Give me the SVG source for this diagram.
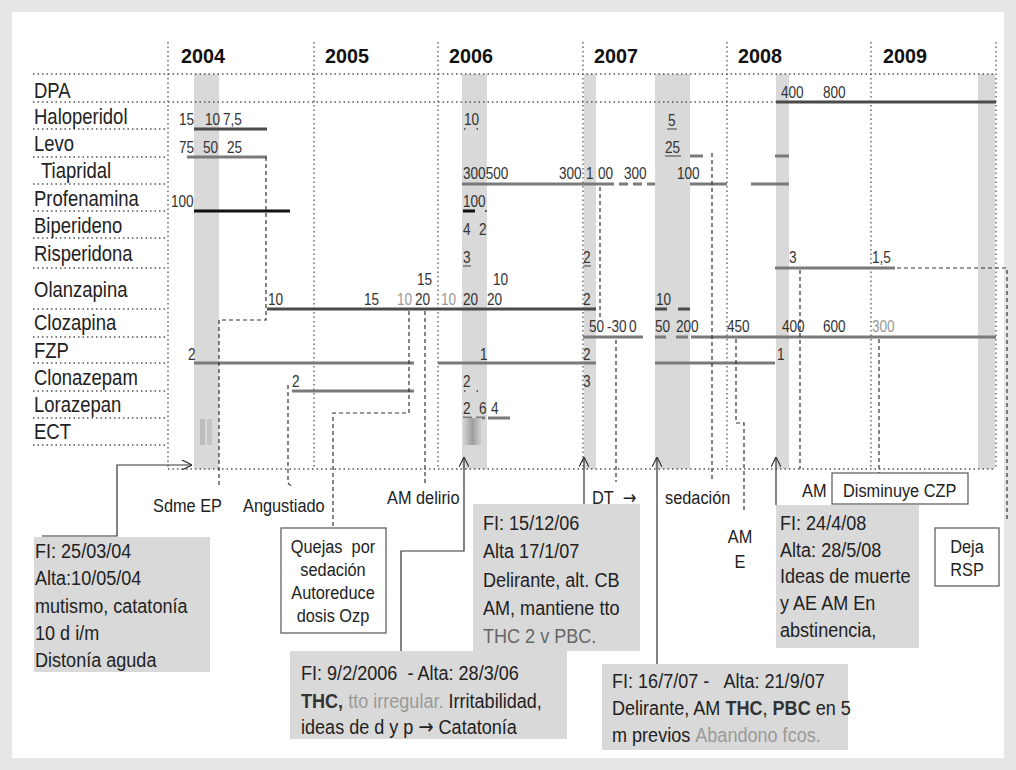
<svg xmlns="http://www.w3.org/2000/svg" width="1016" height="770" viewBox="0 0 1016 770">
<style>
text{font-family:"Liberation Sans",Arial,sans-serif;fill:#222}
.yr{font-size:21px;font-weight:bold;fill:#111}
.lbl{font-size:21.5px}
.n{font-size:16px;fill:#333}
.lt{fill:#999}
.bx{font-size:21px}
.sm{font-size:19px}
.arr{font-family:"DejaVu Sans",sans-serif}
.grid{stroke:#555;stroke-width:1.3;stroke-dasharray:1.5 3;fill:none}
.col{fill:#d9d9d9}
.bar{stroke:#7a7a7a;stroke-width:3;fill:none}
.dk{stroke:#4a4a4a}
.blk{stroke:#111}
.dash{stroke:#333;stroke-width:1.2;stroke-dasharray:4 3;fill:none}
.sol{stroke:#333;stroke-width:1.2;fill:none}
.gbox{fill:#d9d9d9}
.wbox{fill:#fff;stroke:#555;stroke-width:1.2}
</style>
<defs>
<marker id="ah" viewBox="0 0 10 10" refX="10" refY="5" markerWidth="10" markerHeight="10" markerUnits="userSpaceOnUse" orient="auto">
<path d="M0,0 L10,5 L0,10" fill="none" stroke="#333" stroke-width="1.2"/>
</marker>
<linearGradient id="ect" x1="0" x2="1" y1="0" y2="0">
<stop offset="0" stop-color="#d4d4d4"/><stop offset="0.5" stop-color="#9e9e9e"/><stop offset="1" stop-color="#d4d4d4"/>
</linearGradient>
</defs>
<rect width="1016" height="770" fill="#e6e6e6"/>
<rect x="12" y="12" width="992" height="746" fill="#fff"/>

<g id="stays">
<rect class="col" x="194" y="74" width="25" height="395"/>
<rect class="col" x="462" y="74" width="25" height="395"/>
<rect class="col" x="584" y="74" width="12" height="395"/>
<rect class="col" x="655" y="74" width="35" height="395"/>
<rect class="col" x="776" y="74" width="13" height="395"/>
<rect class="col" x="978" y="74" width="17" height="395"/>
</g>

<g id="grid">
<path class="grid" d="M168,42V469M314,42V469M438,42V469M583,42V469M727,42V469M871,42V469M996,42V469"/>
<path class="grid" d="M33,74H996M33,102H776M33,129H168M33,157H168M33,184H168M33,211H168M33,238H168M33,268H168M33,309H168M33,337H168M33,363H168M33,391H168M33,418H168M33,445H168M168,469H996"/>
</g>

<g id="years">
<text class="yr" transform="translate(181 63) scale(.94 1)">2004</text>
<text class="yr" transform="translate(325 63) scale(.94 1)">2005</text>
<text class="yr" transform="translate(449 63) scale(.94 1)">2006</text>
<text class="yr" transform="translate(594 63) scale(.94 1)">2007</text>
<text class="yr" transform="translate(738 63) scale(.94 1)">2008</text>
<text class="yr" transform="translate(883 63) scale(.94 1)">2009</text>
</g>

<g id="drugs">
<text class="lbl" transform="translate(34 98) scale(.86 1)">DPA</text>
<text class="lbl" transform="translate(34 124) scale(.86 1)">Haloperidol</text>
<text class="lbl" transform="translate(34 151) scale(.86 1)">Levo</text>
<text class="lbl" transform="translate(41 178) scale(.86 1)">Tiapridal</text>
<text class="lbl" transform="translate(34 206) scale(.86 1)">Profenamina</text>
<text class="lbl" transform="translate(34 233) scale(.86 1)">Biperideno</text>
<text class="lbl" transform="translate(34 261) scale(.86 1)">Risperidona</text>
<text class="lbl" transform="translate(34 297) scale(.86 1)">Olanzapina</text>
<text class="lbl" transform="translate(34 330) scale(.86 1)">Clozapina</text>
<text class="lbl" transform="translate(34 358) scale(.86 1)">FZP</text>
<text class="lbl" transform="translate(34 385) scale(.86 1)">Clonazepam</text>
<text class="lbl" transform="translate(34 412) scale(.86 1)">Lorazepan</text>
<text class="lbl" transform="translate(34 439) scale(.86 1)">ECT</text>
</g>

<g id="bars">
<path class="bar dk" d="M776,102H996"/>
<path class="bar dk" d="M194,129H267"/>
<path class="bar" d="M187,157H267M690,156H703M775,156H789"/>
<path class="bar" d="M462,184H605M690,184H727M751,184H789"/>
<path class="bar" d="M605,184H655" stroke-dasharray="9 5"/>
<path class="bar blk" d="M194,211H290M463,211H475"/>
<path class="bar" d="M775,268H895"/>
<path class="bar dk" d="M267,309H596M655,309H667M678,309H690"/>
<path class="bar" d="M583,337H643M655,337H666M676,337H688M691,337H996"/>
<path class="bar" d="M194,363H414M438,363H596M655,363H775"/>
<path class="bar" d="M292,391H414"/>
<path class="bar" d="M463,418H472M476,418H485M488,418H510"/>
<path stroke="#444" stroke-width="1.2" fill="none" d="M463,266H471M583,266H591M667,129H677M665,156H681"/>
<path stroke="#444" stroke-width="1.5" stroke-dasharray="1.5 11" fill="none" d="M464,129H480M464,391H480"/>
<rect x="200" y="419" width="5" height="26" fill="#bcbcbc"/>
<rect x="207" y="419" width="5" height="26" fill="#c4c4c4"/>
<rect x="463" y="418" width="19" height="27" fill="url(#ect)"/>
</g>

<g id="doses">
<text class="n" transform="translate(781 98) scale(.85 1)">400</text>
<text class="n" transform="translate(823 98) scale(.85 1)">800</text>
<text class="n" transform="translate(179 125) scale(.85 1)">15</text>
<text class="n" transform="translate(205 125) scale(.85 1)">10</text>
<text class="n" transform="translate(223 125) scale(.85 1)">7,5</text>
<text class="n" transform="translate(464 125) scale(.85 1)">10</text>
<text class="n" transform="translate(668 126) scale(.85 1)">5</text>
<text class="n" transform="translate(179 153) scale(.85 1)">75</text>
<text class="n" transform="translate(203 153) scale(.85 1)">50</text>
<text class="n" transform="translate(227 153) scale(.85 1)">25</text>
<text class="n" transform="translate(665 153) scale(.85 1)">25</text>
<text class="n" transform="translate(463 179) scale(.85 1)">300500</text>
<text class="n" transform="translate(559 179) scale(.85 1)">300</text>
<text class="n" transform="translate(586 179) scale(.85 1)">1</text>
<text class="n" transform="translate(598 179) scale(.85 1)">00</text>
<text class="n" transform="translate(624 179) scale(.85 1)">300</text>
<text class="n" transform="translate(677 179) scale(.85 1)">100</text>
<text class="n" transform="translate(171 207) scale(.85 1)">100</text>
<text class="n" transform="translate(463 207) scale(.85 1)">100</text>
<circle cx="486" cy="211" r="1" fill="#333"/>
<text class="n" transform="translate(463 235) scale(.85 1)">4</text>
<text class="n" transform="translate(479 235) scale(.85 1)">2</text>
<text class="n" transform="translate(463 263) scale(.85 1)">3</text>
<text class="n" transform="translate(583 263) scale(.85 1)">2</text>
<text class="n" transform="translate(789 263) scale(.85 1)">3</text>
<text class="n" transform="translate(872 263) scale(.85 1)">1,5</text>
<text class="n" transform="translate(268 305) scale(.85 1)">10</text>
<text class="n" transform="translate(364 305) scale(.85 1)">15</text>
<text class="n lt" transform="translate(397 305) scale(.85 1)">10</text>
<text class="n" transform="translate(415 305) scale(.85 1)">20</text>
<text class="n" transform="translate(417 285) scale(.85 1)">15</text>
<text class="n lt" transform="translate(441 305) scale(.85 1)">10</text>
<text class="n" transform="translate(463 305) scale(.85 1)">20</text>
<text class="n" transform="translate(487 305) scale(.85 1)">20</text>
<text class="n" transform="translate(493 285) scale(.85 1)">10</text>
<text class="n" transform="translate(583 305) scale(.85 1)">2</text>
<text class="n" transform="translate(656 305) scale(.85 1)">10</text>
<text class="n" transform="translate(589 332) scale(.85 1)">50</text>
<text class="n" transform="translate(607 332) scale(.85 1)">-30</text>
<text class="n" transform="translate(629 332) scale(.85 1)">0</text>
<text class="n" transform="translate(655 332) scale(.85 1)">50</text>
<text class="n" transform="translate(676 332) scale(.85 1)">200</text>
<text class="n" transform="translate(727 332) scale(.85 1)">450</text>
<text class="n" transform="translate(782 332) scale(.85 1)">400</text>
<text class="n" transform="translate(823 332) scale(.85 1)">600</text>
<text class="n lt" transform="translate(872 332) scale(.85 1)">300</text>
<text class="n" transform="translate(188 360) scale(.85 1)">2</text>
<text class="n" transform="translate(480 360) scale(.85 1)">1</text>
<text class="n" transform="translate(583 360) scale(.85 1)">2</text>
<text class="n" transform="translate(777 360) scale(.85 1)">1</text>
<text class="n" transform="translate(292 387) scale(.85 1)">2</text>
<text class="n" transform="translate(463 387) scale(.85 1)">2</text>
<text class="n" transform="translate(583 387) scale(.85 1)">3</text>
<text class="n" transform="translate(463 414) scale(.85 1)">2</text>
<text class="n" transform="translate(479 414) scale(.85 1)">6</text>
<text class="n" transform="translate(491 414) scale(.85 1)">4</text>
</g>

<g id="connectors">
<path class="dash" d="M266,157V320H219V488"/>
<path class="dash" d="M409,311V413H333V528"/>
<path class="dash" d="M425,311V486"/>
<path class="dash" d="M288,385V483L292,487"/>
<path class="dash" d="M600,187V318"/>
<path class="dash" d="M616,340V482"/>
<path class="dash" d="M712,153V482"/>
<path class="dash" d="M736,339V423H744V512"/>
<path class="dash" d="M800,270V469"/>
<path class="dash" d="M879,339V473"/>
<path class="dash" d="M897,268H1007V520"/>
<path class="sol" d="M42,536H117V465H192" marker-end="url(#ah)"/>
<path class="sol" d="M401,651V551H464V457" marker-end="url(#ah)"/>
<path class="sol" d="M584,504V457" marker-end="url(#ah)"/>
<path class="sol" d="M657,664V457" marker-end="url(#ah)"/>
<path class="sol" d="M776,505V457" marker-end="url(#ah)"/>
</g>

<g id="events">
<text class="sm" transform="translate(153 512) scale(.86 1)">Sdme EP</text>
<text class="sm" transform="translate(243 512) scale(.86 1)">Angustiado</text>
<text class="sm" transform="translate(387 504) scale(.86 1)">AM delirio</text>
<text class="sm" transform="translate(592 504) scale(.86 1)">DT&#160;&#160;<tspan class="arr">→</tspan></text>
<text class="sm" transform="translate(665 504) scale(.86 1)">sedación</text>
<text class="sm" text-anchor="middle" transform="translate(740 543) scale(.86 1)">AM</text>
<text class="sm" text-anchor="middle" transform="translate(740 568) scale(.86 1)">E</text>
<text class="sm" transform="translate(802 497) scale(.86 1)">AM</text>
</g>

<g id="box-fi-2004">
<rect class="gbox" x="34" y="537" width="176" height="135"/>
<text class="bx" transform="translate(35 558) scale(.86 1)"><tspan x="0" y="0">FI: 25/03/04</tspan><tspan x="0" y="27">Alta:10/05/04</tspan><tspan x="0" y="55">mutismo, catatonía</tspan><tspan x="0" y="82">10 d i/m</tspan><tspan x="0" y="109">Distonía aguda</tspan></text>
</g>

<g id="box-quejas">
<rect class="wbox" x="281" y="528" width="105" height="105"/>
<text class="sm" text-anchor="middle" transform="translate(333 553) scale(.86 1)"><tspan x="0" y="0">Quejas&#160; por</tspan><tspan x="0" y="23">sedación</tspan><tspan x="0" y="46">Autoreduce</tspan><tspan x="0" y="69">dosis Ozp</tspan></text>
</g>

<g id="box-fi-2006">
<rect class="gbox" x="290" y="651" width="277" height="88"/>
<text class="bx" transform="translate(301 680) scale(.86 1)"><tspan x="0" y="0">FI: 9/2/2006&#160; - Alta: 28/3/06</tspan><tspan x="0" y="28"><tspan font-weight="bold" fill="#333">THC,</tspan> <tspan fill="#999">tto irregular.</tspan> Irritabilidad,</tspan><tspan x="0" y="54">ideas de d y p <tspan class="arr">→</tspan> Catatonía</tspan></text>
</g>

<g id="box-fi-2006b">
<rect class="gbox" x="473" y="504" width="167" height="147"/>
<text class="bx" transform="translate(483 530) scale(.86 1)"><tspan x="0" y="0">FI: 15/12/06</tspan><tspan x="0" y="28">Alta 17/1/07</tspan><tspan x="0" y="57">Delirante, alt. CB</tspan><tspan x="0" y="85">AM, mantiene tto</tspan><tspan x="0" y="113" fill="#666">THC 2 v PBC.</tspan></text>
</g>

<g id="box-fi-2007">
<rect class="gbox" x="602" y="664" width="246" height="86"/>
<text class="bx" transform="translate(612 688) scale(.86 1)"><tspan x="0" y="0">FI: 16/7/07 -&#160;&#160; Alta: 21/9/07</tspan><tspan x="0" y="27">Delirante, AM <tspan font-weight="bold" fill="#333">THC</tspan>, <tspan font-weight="bold" fill="#333">PBC</tspan> en 5</tspan><tspan x="0" y="54">m previos <tspan fill="#999">Abandono fcos.</tspan></tspan></text>
</g>

<g id="box-fi-2008">
<rect class="gbox" x="776" y="505" width="143" height="143"/>
<text class="bx" transform="translate(780 530) scale(.86 1)"><tspan x="0" y="0">FI: 24/4/08</tspan><tspan x="0" y="27">Alta: 28/5/08</tspan><tspan x="0" y="53">Ideas de muerte</tspan><tspan x="0" y="80">y AE AM En</tspan><tspan x="0" y="107">abstinencia,</tspan></text>
</g>

<g id="box-czp">
<rect class="wbox" x="832" y="473" width="136" height="31"/>
<text class="sm" transform="translate(843 497) scale(.86 1)">Disminuye CZP</text>
</g>

<g id="box-rsp">
<rect class="wbox" x="935" y="528" width="64" height="58"/>
<text class="sm" text-anchor="middle" transform="translate(967 553) scale(.86 1)"><tspan x="0" y="0">Deja</tspan><tspan x="0" y="23">RSP</tspan></text>
</g>
</svg>
